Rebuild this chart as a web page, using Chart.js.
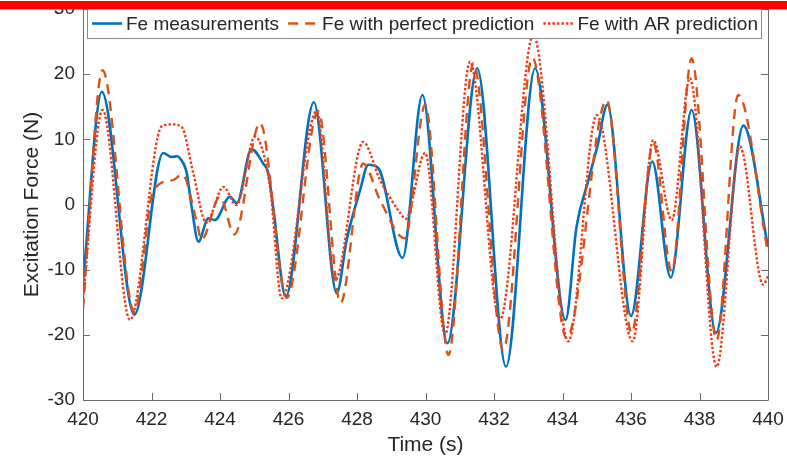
<!DOCTYPE html>
<html>
<head>
<meta charset="utf-8">
<script src="https://cdn.jsdelivr.net/npm/chart.js@4.4.1/dist/chart.umd.min.js"></script>
<style>
  html, body { margin: 0; padding: 0; background: #fff; }
</style>
</head>
<body>
<canvas id="fe" width="787" height="459"></canvas>
<script>
// ------------------------- Data -------------------------
const measTime = [420.0, 420.55, 421.50, 422.34, 422.58, 422.75, 422.83, 423.03, 423.17, 423.37, 423.66, 423.85,
  424.29, 424.49, 424.92, 425.26, 425.41, 425.55, 425.92, 426.74, 427.41, 427.70, 428.09, 428.33, 428.62, 429.33,
  429.91, 430.64, 431.51, 432.35, 433.20, 434.09, 434.41, 434.75, 435.02, 435.31, 436.00, 436.62, 437.16, 437.77,
  438.48, 439.28, 440.0];
const measVal = [-12.0, 17.3, -16.9, 7.9, 7.3, 7.4, 7.1, 4.8, -0.3, -5.7, -2.1, -2.4,
  1.2, 0.2, 8.5, 6.3, 4.8, -0.3, -14.1, 15.7, -13.6, -5.4, 2.2, 6.1, 5.6, -8.2,
  16.8, -21.3, 20.9, -24.9, 20.9, -17.7, -3.4, 3.6, 9.0, 15.3, -17.1, 6.6, -11.2, 14.5,
  -19.7, 12.1, -6.5];

const perfTime = [420.0, 420.57, 421.50, 422.0, 422.2, 422.65, 422.9, 423.32, 423.46, 424.0, 424.42, 425.17,
  425.95, 426.87, 427.52, 428.18, 428.67, 429.40, 429.99, 430.67, 431.40, 432.27, 433.12, 434.12, 435.29,
  436.02, 436.65, 437.19, 437.77, 438.50, 439.13, 440.0];
const perfVal = [-16.0, 20.6, -16.5, 1.2, 3.0, 3.8, 4.6, -2.6, -5.4, 1.2, -4.6, 12.5,
  -14.3, 14.3, -15.1, 6.3, 0.7, -5.2, 15.3, -23.1, 21.7, -22.3, 22.5, -20.5, 16.0,
  -19.7, 9.4, -10.3, 22.4, -20.8, 16.8, -7.5];

const arTime = [420.0, 420.57, 421.37, 422.3, 422.6, 422.88, 423.22, 423.6, 424.1, 424.48, 425.02, 425.46,
  425.8, 426.82, 427.36, 428.18, 428.67, 429.26, 429.42, 429.99, 430.57, 431.30, 432.17, 433.15, 434.17,
  435.0, 436.05, 436.65, 437.19, 437.72, 438.5, 439.18, 439.86, 440.0];
const arVal = [-14.5, 14.5, -17.7, 12.0, 12.3, 11.9, 4.8, -2.8, 2.7, -0.1, 10.4, 2.7,
  -14.4, 14.3, -11.6, 9.6, 3.8, -1.3, -2.2, 7.9, -20.0, 21.9, -17.7, 26.0, -21.0,
  13.7, -21.0, 9.9, -2.4, 19.4, -24.9, 8.9, -12.3, -11.0];

const seriesNames = ['Fe measurements', 'Fe with perfect prediction', 'Fe with AR prediction'];
const xTicks = { min: 420, max: 440, step: 2 };
const yTicks = { min: -30, max: 30, step: 10 };

// ------------------------- Styles -------------------------
const TEXT = '#262626';
const AXIS = '#6b6b6b';
const FONT = 'Liberation Sans, Arial, sans-serif';
const colors = ['#0072BD', '#D95319', '#F23A1A'];
const dashes = [[], [10, 7], [2.5, 2]];

function toPoints(t, v) {
  return t.map((x, i) => ({ x, y: v[i] }));
}

// inward tick marks + box, MATLAB style
const axesBox = {
  id: 'axesBox',
  afterDatasetsDraw(chart) {
    const { ctx, chartArea: a, scales: { x, y } } = chart;
    ctx.save();
    ctx.strokeStyle = AXIS;
    ctx.lineWidth = 1;
    ctx.beginPath();
    ctx.rect(a.left + 0.5, a.top + 0.5, a.right - a.left, a.bottom - a.top);
    x.ticks.forEach(t => {
      const px = Math.round(x.getPixelForValue(t.value)) + 0.5;
      ctx.moveTo(px, a.bottom); ctx.lineTo(px, a.bottom - 7);
      ctx.moveTo(px, a.top); ctx.lineTo(px, a.top + 7);
    });
    y.ticks.forEach(t => {
      const py = Math.round(y.getPixelForValue(t.value)) + 0.5;
      ctx.moveTo(a.left, py); ctx.lineTo(a.left + 7, py);
      ctx.moveTo(a.right, py); ctx.lineTo(a.right - 7, py);
    });
    ctx.stroke();
    ctx.restore();
  }
};

// legend box inside the axes, top
const boxLegend = {
  id: 'boxLegend',
  afterDatasetsDraw(chart) {
    const { ctx } = chart;
    const box = { left: 87, top: 4, right: 761, bottom: 38 };
    ctx.save();
    ctx.fillStyle = '#fff';
    ctx.fillRect(box.left, box.top, box.right - box.left, box.bottom - box.top);
    ctx.strokeStyle = '#8a8a8a';
    ctx.lineWidth = 1;
    ctx.strokeRect(box.left + 0.5, box.top + 0.5, box.right - box.left, box.bottom - box.top);
    ctx.font = '19px ' + FONT;
    ctx.textBaseline = 'middle';
    ctx.fillStyle = TEXT;
    let cx = 92;
    const ly = 23.5;
    chart.data.datasets.forEach((ds, i) => {
      ctx.beginPath();
      ctx.strokeStyle = ds.borderColor;
      ctx.lineWidth = ds.borderWidth;
      ctx.setLineDash(ds.borderDash || []);
      ctx.moveTo(cx, ly); ctx.lineTo(cx + 30, ly);
      ctx.stroke();
      ctx.setLineDash([]);
      ctx.fillText(ds.label, cx + 34, ly + 1);
      cx += 34 + ctx.measureText(ds.label).width + 9;
    });
    ctx.restore();
  }
};

// red strip across the top
const topStrip = {
  id: 'topStrip',
  afterDraw(chart) {
    const { ctx } = chart;
    ctx.save();
    ctx.fillStyle = '#ff0000';
    ctx.fillRect(0, 1, chart.width, 8.5);
    ctx.restore();
  }
};

const fe = new Chart(document.getElementById('fe'), {
  type: 'line',
  data: {
    datasets: [
      { label: seriesNames[0], data: toPoints(measTime, measVal), order: 2 },
      { label: seriesNames[1], data: toPoints(perfTime, perfVal), order: 1 },
      { label: seriesNames[2], data: toPoints(arTime, arVal), order: 0 }
    ].map((d, i) => Object.assign(d, {
      borderColor: colors[i],
      borderWidth: i === 0 ? 2.6 : 2.4,
      borderDash: dashes[i],
      borderCapStyle: 'butt',
      pointRadius: 0,
      fill: false,
      cubicInterpolationMode: 'monotone'
    }))
  },
  options: {
    responsive: false,
    animation: false,
    devicePixelRatio: 1,
    layout: { padding: { top: 9, right: 19, left: 0, bottom: 0 } },
    plugins: { legend: { display: false }, tooltip: { enabled: false } },
    scales: {
      x: {
        type: 'linear',
        min: xTicks.min, max: xTicks.max,
        grid: { display: false, drawTicks: false },
        border: { display: false },
        ticks: { stepSize: xTicks.step, padding: 8, maxRotation: 0, autoSkip: false,
          color: TEXT, font: { family: FONT, size: 19 } },
        title: { display: true, text: 'Time (s)', color: TEXT,
          font: { family: FONT, size: 21 }, padding: { top: 0, bottom: 1 } },
        afterFit: s => { s.height = 59; s.paddingLeft = 0; s.paddingRight = 0; }
      },
      y: {
        min: yTicks.min, max: yTicks.max,
        grid: { display: false, drawTicks: false },
        border: { display: false },
        ticks: { stepSize: yTicks.step, padding: 8,
          color: TEXT, font: { family: FONT, size: 19 } },
        title: { display: true, text: 'Excitation Force (N)', color: TEXT,
          font: { family: FONT, size: 21 }, padding: { top: 20, bottom: 0 } },
        afterFit: s => { s.width = 83; s.paddingTop = 0; s.paddingBottom = 0; }
      }
    }
  },
  plugins: [axesBox, boxLegend, topStrip]
});
</script>
</body>
</html>
